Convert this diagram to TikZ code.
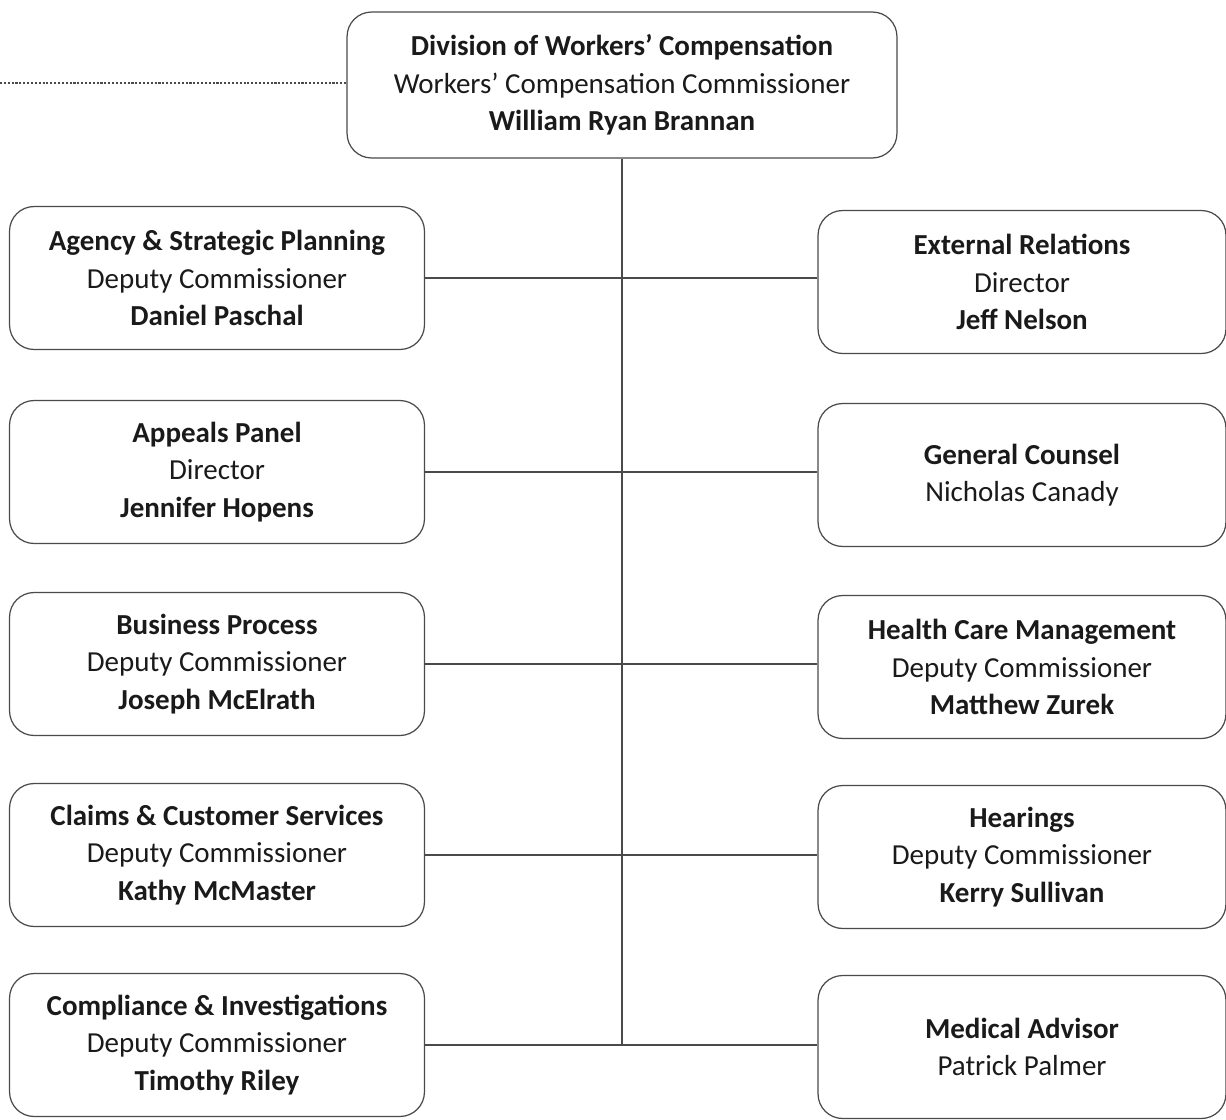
\documentclass[tikz,border=0pt]{standalone}
\usepackage{fontspec}
\setmainfont{Carlito}
\usepackage{tikz}
\usetikzlibrary{positioning,calc}
\definecolor{ink}{HTML}{1A1A1A}
\definecolor{rule}{HTML}{4A4A4A}
\tikzset{
  unitbox/.style={draw=rule,line width=0.7pt,rounded corners=14pt,
                  minimum width=8.3cm,minimum height=2.86cm,
                  align=center,inner sep=2pt,text=ink,
                  font=\fontsize{16.5}{21.3}\selectfont},
  headbox/.style={unitbox,minimum width=11cm,minimum height=2.92cm},
  link/.style={draw=rule,line width=0.6pt},
  dotlink/.style={link,densely dashed,dash pattern=on 1.2pt off 1pt}
}
\begin{document}
\begin{tikzpicture}[x=0.02cm,y=-0.02cm]
  \useasboundingbox (0,0) rectangle (1226,1119);
  % head of division
  \node[headbox] (head) at (622,85)
    {\textbf{Division of Workers’ Compensation}\\Workers’ Compensation Commissioner\\\textbf{William Ryan Brannan}};
  \coordinate (ext) at (0,83);
  % left column
  \node[unitbox] (agency) at (217,278)
    {\textbf{Agency \& Strategic Planning}\\Deputy Commissioner\\\textbf{Daniel Paschal}};
  \node[unitbox] (appeals) at (217,472)
    {\textbf{Appeals Panel}\\Director\\\textbf{Jennifer Hopens}};
  \node[unitbox] (business) at (217,664)
    {\textbf{Business Process}\\Deputy Commissioner\\\textbf{Joseph McElrath}};
  \node[unitbox] (claims) at (217,855)
    {\textbf{Claims \& Customer Services}\\Deputy Commissioner\\\textbf{Kathy McMaster}};
  \node[unitbox] (compliance) at (217,1045)
    {\textbf{Compliance \& Investigations}\\Deputy Commissioner\\\textbf{Timothy Riley}};
  % right column
  \node[unitbox,minimum width=8.16cm] (external) at (1022,282)
    {\textbf{External Relations}\\Director\\\textbf{Jeff Nelson}};
  \node[unitbox,minimum width=8.16cm] (counsel) at (1022,475)
    {\textbf{General Counsel}\\Nicholas Canady};
  \node[unitbox,minimum width=8.16cm] (health) at (1022,667)
    {\textbf{Health Care Management}\\Deputy Commissioner\\\textbf{Matthew Zurek}};
  \node[unitbox,minimum width=8.16cm] (hearings) at (1022,857)
    {\textbf{Hearings}\\Deputy Commissioner\\\textbf{Kerry Sullivan}};
  \node[unitbox,minimum width=8.16cm] (medical) at (1022,1047)
    {\textbf{Medical Advisor}\\Patrick Palmer};
  % connectors
  \draw[dotlink] (ext) -- (head.west |- ext);
  \draw[link] (head.south) -- (head.south |- compliance.east);
  \draw[link] (agency.east) -- (agency.east -| external.west);
  \draw[link] (appeals.east) -- (appeals.east -| counsel.west);
  \draw[link] (business.east) -- (business.east -| health.west);
  \draw[link] (claims.east) -- (claims.east -| hearings.west);
  \draw[link] (compliance.east) -- (compliance.east -| medical.west);
\end{tikzpicture}
\end{document}
